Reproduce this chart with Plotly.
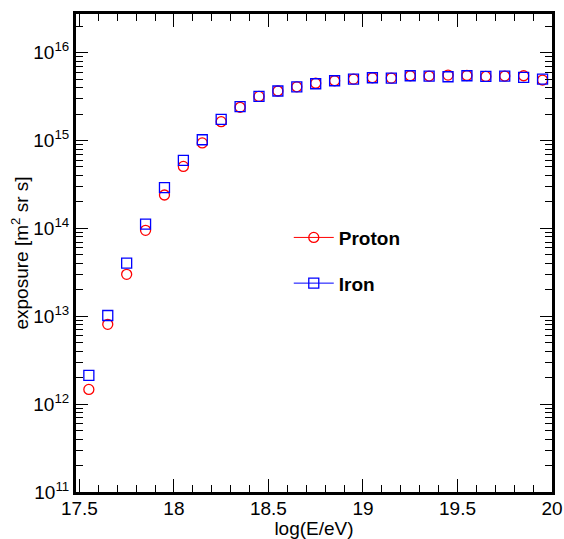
import plotly.graph_objects as go

log_e = [17.55, 17.65, 17.75, 17.85, 17.95, 18.05, 18.15, 18.25, 18.35, 18.45,
         18.55, 18.65, 18.75, 18.85, 18.95, 19.05, 19.15, 19.25, 19.35, 19.45,
         19.55, 19.65, 19.75, 19.85, 19.95]

proton = [1.47e12, 8.1e12, 3.0e13, 9.5e13, 2.4e14, 5.07e14, 9.4e14, 1.64e15, 2.39e15, 3.18e15,
          3.66e15, 4.09e15, 4.49e15, 4.79e15, 5.0e15, 5.18e15, 5.14e15, 5.46e15, 5.42e15, 5.56e15,
          5.5e15, 5.36e15, 5.42e15, 5.46e15, 4.88e15]

iron = [2.13e12, 1.02e13, 4.03e13, 1.12e14, 2.91e14, 5.93e14, 1.02e15, 1.74e15, 2.43e15, 3.18e15,
        3.66e15, 4.09e15, 4.43e15, 4.79e15, 5.0e15, 5.18e15, 5.14e15, 5.46e15, 5.42e15, 5.32e15,
        5.46e15, 5.36e15, 5.42e15, 5.22e15, 5.0e15]

y_tickvals = [1e11, 1e12, 1e13, 1e14, 1e15, 1e16]
y_ticktext = ["10<sup>11</sup>", "10<sup>12</sup>", "10<sup>13</sup>",
              "10<sup>14</sup>", "10<sup>15</sup>", "10<sup>16</sup>"]
x_tickvals = [17.5, 18, 18.5, 19, 19.5, 20]
x_ticktext = ["17.5", "18", "18.5", "19", "19.5", "20"]

FONT = "Liberation Sans, Arial, sans-serif"
RED = "#ff0000"
BLUE = "#0000ff"
X_RANGE = [17.482, 20.0]
Y_RANGE = [11, 16.44]

fig = go.Figure()
fig.add_trace(go.Scatter(
    x=log_e, y=proton, mode="markers", showlegend=False,
    marker=dict(symbol="circle-open", size=10, color=RED, line=dict(width=1.3, color=RED)),
))
fig.add_trace(go.Scatter(
    x=log_e, y=iron, mode="markers", showlegend=False,
    marker=dict(symbol="square-open", size=10, color=BLUE, line=dict(width=1.3, color=BLUE)),
))
# legend entries (line + marker, ROOT "lp" style)
fig.add_trace(go.Scatter(
    x=[None], y=[None], mode="lines+markers", name="Proton", legendgroup="p",
    line=dict(color=RED, width=1),
    marker=dict(symbol="circle-open", size=10, color=RED, line=dict(width=1.3, color=RED)),
))
fig.add_trace(go.Scatter(
    x=[None], y=[None], mode="lines+markers", name="Iron", legendgroup="i",
    line=dict(color=BLUE, width=1),
    marker=dict(symbol="square-open", size=10, color=BLUE, line=dict(width=1.3, color=BLUE)),
))
# carrier for mirrored top/right axes
fig.add_trace(go.Scatter(x=[None], y=[None], xaxis="x2", yaxis="y2",
                         showlegend=False, hoverinfo="skip"))

fig.update_layout(
    width=564, height=539,
    margin=dict(l=76, r=12, t=14, b=47, autoexpand=False),
    paper_bgcolor="white", plot_bgcolor="white",
    font=dict(family=FONT, size=18, color="black"),
    legend=dict(
        x=0.447, y=0.572, xanchor="left", yanchor="top",
        font=dict(family=FONT, size=19, color="black", weight="bold"),
        bgcolor="rgba(0,0,0,0)", itemwidth=40,
        traceorder="grouped", tracegroupgap=18,
    ),
    xaxis=dict(
        range=X_RANGE, showgrid=False, zeroline=False, automargin=False,
        showline=True, linewidth=3, linecolor="black", mirror=True,
        ticks="inside", ticklen=13, tickwidth=1, tickcolor="black",
        tickvals=x_tickvals, ticktext=x_ticktext,
        tickfont=dict(family=FONT, size=19), ticklabelstandoff=-3,
        minor=dict(ticks="inside", ticklen=7, tickwidth=1, tickcolor="black", dtick=0.1),
        title=dict(text="log(E/eV)", font=dict(family=FONT, size=19), standoff=0),
    ),
    yaxis=dict(
        type="log", range=Y_RANGE, showgrid=False, zeroline=False, automargin=False,
        showline=True, linewidth=3, linecolor="black", mirror=True,
        ticks="inside", ticklen=12, tickwidth=1, tickcolor="black",
        tickvals=y_tickvals, ticktext=y_ticktext,
        tickfont=dict(family=FONT, size=19), ticklabelstandoff=0,
        minor=dict(ticks="inside", ticklen=7, tickwidth=1, tickcolor="black", dtick="D1"),
        title=dict(text="exposure [m<sup>2</sup> sr s]", font=dict(family=FONT, size=19), standoff=0),
    ),
    xaxis2=dict(
        overlaying="x", side="top", range=X_RANGE, showgrid=False, zeroline=False,
        showticklabels=False, ticks="inside", ticklen=13, tickwidth=1, tickcolor="black",
        tickvals=x_tickvals, automargin=False,
        minor=dict(ticks="inside", ticklen=7, tickwidth=1, tickcolor="black", dtick=0.1),
    ),
    yaxis2=dict(
        overlaying="y", side="right", type="log", range=Y_RANGE, showgrid=False, zeroline=False,
        showticklabels=False, ticks="inside", ticklen=12, tickwidth=1, tickcolor="black",
        tickvals=y_tickvals, automargin=False,
        minor=dict(ticks="inside", ticklen=7, tickwidth=1, tickcolor="black", dtick="D1"),
    ),
)

fig.write_html("out.html", config={"displayModeBar": False},
               post_script="document.body.style.margin='0';")
